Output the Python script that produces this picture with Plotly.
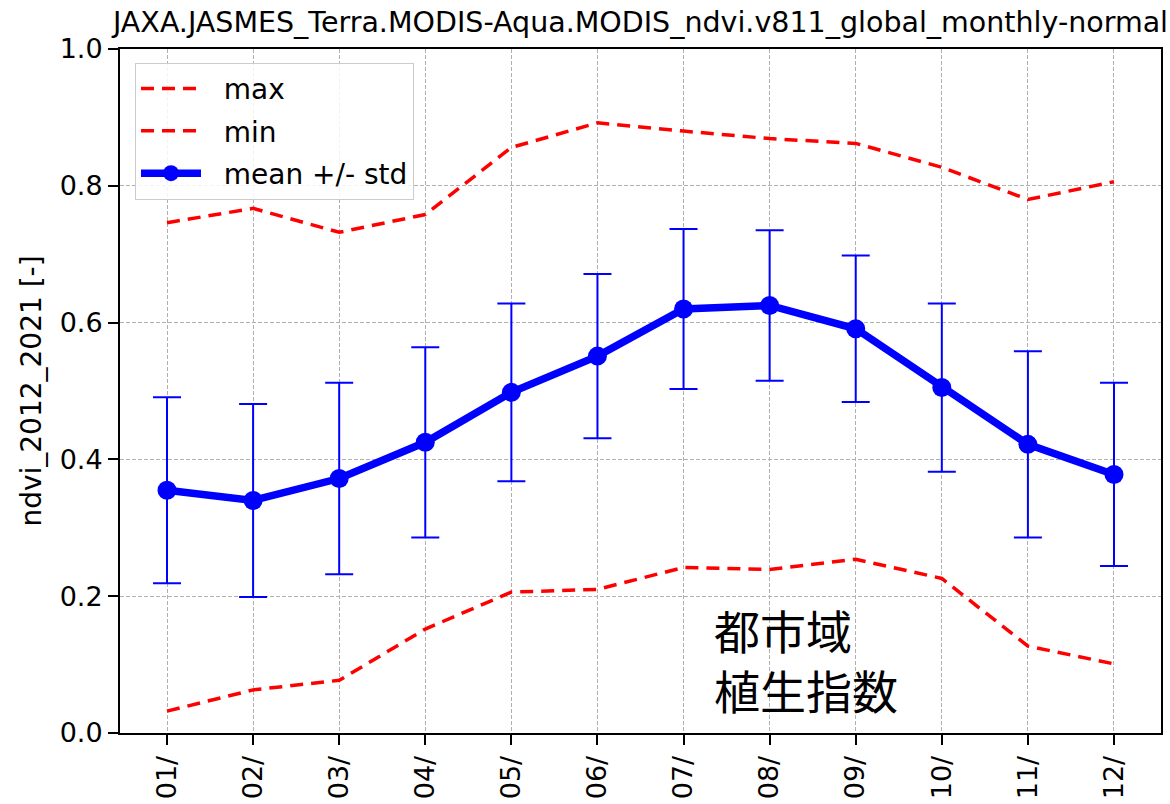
import plotly.graph_objects as go

# Monthly NDVI climatology (2012-2021)
months = [1, 2, 3, 4, 5, 6, 7, 8, 9, 10, 11, 12]
month_labels = ["01/", "02/", "03/", "04/", "05/", "06/", "07/", "08/", "09/", "10/", "11/", "12/"]
ndvi_max = [0.746, 0.767, 0.732, 0.758, 0.856, 0.892, 0.880, 0.869, 0.862, 0.827, 0.780, 0.806]
ndvi_min = [0.032, 0.063, 0.077, 0.152, 0.206, 0.210, 0.242, 0.239, 0.254, 0.226, 0.127, 0.101]
ndvi_mean = [0.355, 0.340, 0.372, 0.425, 0.498, 0.551, 0.620, 0.625, 0.591, 0.505, 0.422, 0.378]
ndvi_std = [0.136, 0.141, 0.140, 0.139, 0.130, 0.120, 0.117, 0.110, 0.107, 0.123, 0.136, 0.134]
y_ticks = [0.0, 0.2, 0.4, 0.6, 0.8, 1.0]

FONT = "DejaVu Sans"
GAP = "\u00a0\u00a0"  # spacing between legend symbol and label

fig = go.Figure()

fig.add_trace(go.Scatter(
    x=months, y=ndvi_max, name=GAP + "max", mode="lines",
    line=dict(color="#ff0000", width=3.5, dash="13px,8px"),
    legendgroup="a",
))
fig.add_trace(go.Scatter(
    x=months, y=ndvi_min, name=GAP + "min", mode="lines",
    line=dict(color="#ff0000", width=3.5, dash="13px,8px"),
    legendgroup="b",
))
fig.add_trace(go.Scatter(
    x=months, y=ndvi_mean, name=GAP + "mean +/- std", mode="lines+markers",
    line=dict(color="#0000ff", width=7.5),
    marker=dict(color="#0000ff", size=19),
    error_y=dict(type="data", array=ndvi_std, visible=True,
                 color="#0000ff", thickness=2, width=14),
    legendgroup="c",
))

fig.add_annotation(
    text="都市域<br>植生指数",
    x=7.33, y=0.203, xref="x", yref="y",
    xanchor="left", yanchor="top", align="left",
    showarrow=False,
    font=dict(family="Noto Sans CJK JP", size=46, color="black"),
)

fig.update_layout(
    width=1170, height=804,
    margin=dict(l=120, r=9, t=49, b=71, autoexpand=False),
    paper_bgcolor="white", plot_bgcolor="white",
    font=dict(family=FONT, size=27, color="black"),
    title=dict(
        text="JAXA.JASMES_Terra.MODIS-Aqua.MODIS_ndvi.v811_global_monthly-normal",
        x=0.5, xref="paper", xanchor="center",
        y=1, yref="paper", yanchor="bottom",
        pad=dict(b=17), automargin=False,
        font=dict(family=FONT, size=28.5, color="black"),
    ),
    showlegend=True,
    legend=dict(
        x=0.0144, y=0.98, xanchor="left", yanchor="top",
        bgcolor="rgba(255,255,255,0.85)", bordercolor="#cccccc", borderwidth=1,
        font=dict(family=FONT, size=28, color="black"),
        tracegroupgap=3, itemwidth=60,
    ),
)

fig.update_xaxes(
    range=[0.454, 12.546], automargin=False,
    tickmode="array", tickvals=months, ticktext=month_labels,
    tickangle=-90,
    ticks="outside", ticklen=10, tickwidth=2, tickcolor="black",
    showline=True, linecolor="black", linewidth=2, mirror=True,
    showgrid=True, gridcolor="#b0b0b0", gridwidth=1, griddash="4px,2px",
    zeroline=False,
    tickfont=dict(family=FONT, size=27, color="black"),
)
fig.update_yaxes(
    range=[0, 1], automargin=False,
    tickmode="array", tickvals=y_ticks, ticktext=[f"{v:.1f}" for v in y_ticks],
    ticks="outside", ticklen=10, tickwidth=2, tickcolor="black",
    showline=True, linecolor="black", linewidth=2, mirror=True,
    showgrid=True, gridcolor="#b0b0b0", gridwidth=1, griddash="4px,2px",
    zeroline=False,
    title=dict(text="ndvi_2012_2021 [-]", font=dict(family=FONT, size=28, color="black"), standoff=10),
    tickfont=dict(family=FONT, size=27, color="black"),
)

fig.write_html("out.html")
